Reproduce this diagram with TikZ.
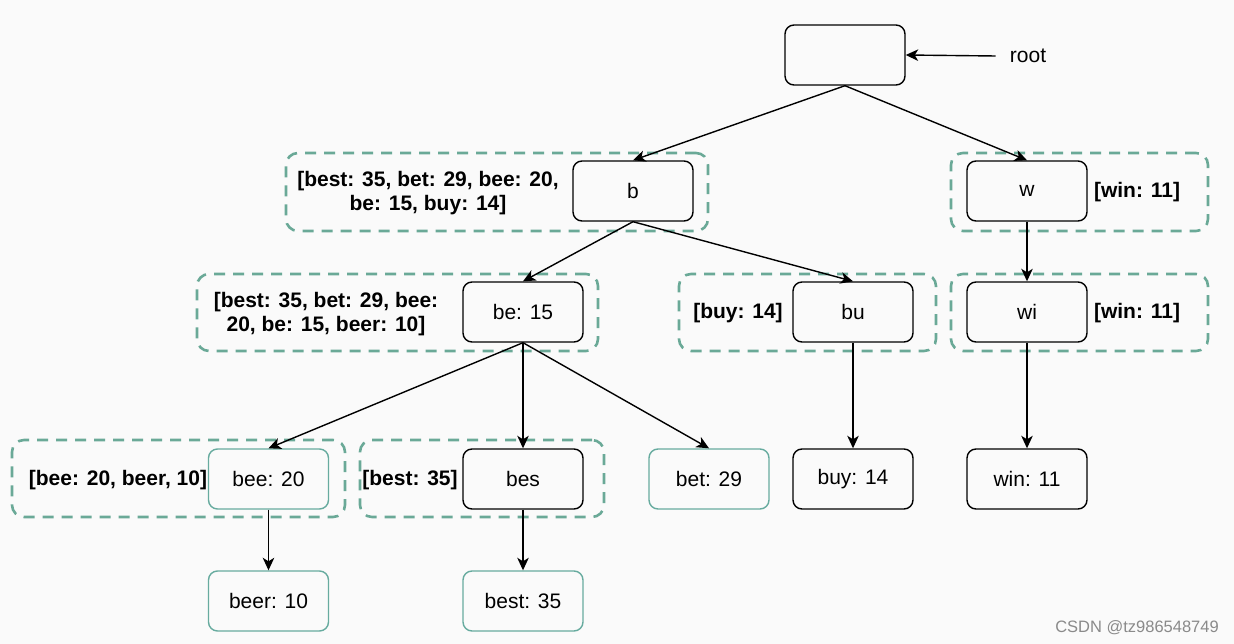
\documentclass[tikz,border=0pt]{standalone}
\usepackage{fontspec}
\setmainfont{Liberation Sans}
\usetikzlibrary{arrows.meta}
\definecolor{tealbox}{HTML}{67AB9F}
\definecolor{dashc}{HTML}{6AA997}
\definecolor{bgc}{HTML}{FAFAFA}
\definecolor{wm}{HTML}{8A8A8A}
\begin{document}
\begin{tikzpicture}[x=1pt,y=-1pt,
  box/.style={draw=black, line width=1.4pt, rounded corners=9pt, minimum width=120pt, minimum height=60pt, font=\fontsize{21}{24}\selectfont, inner sep=0pt},
  tbox/.style={box, draw=tealbox},
  dbox/.style={draw=dashc, line width=2.6pt, dash pattern=on 11pt off 8pt, rounded corners=12pt, inner sep=0pt},
  lbl/.style={font=\bfseries\fontsize{21}{24}\selectfont, align=center, inner sep=0pt},
  arr/.style={-{Stealth[length=12.5pt,width=11.5pt,inset=3.5pt]}, line width=1.4pt}]
\path[fill=bgc] (0,0) rectangle (1234,644);
\useasboundingbox (0,0) rectangle (1234,644);
% dashed groups
\node[dbox, minimum width=422pt, minimum height=78pt] (gb) at (497,192) {};
\node[dbox, minimum width=257pt, minimum height=78pt] (gw) at (1079.5,192) {};
\node[dbox, minimum width=401pt, minimum height=77pt] (gbe) at (397.5,312.5) {};
\node[dbox, minimum width=257pt, minimum height=77pt] (gbu) at (807.5,312.5) {};
\node[dbox, minimum width=257pt, minimum height=77pt] (gwi) at (1079.5,312.5) {};
\node[dbox, minimum width=333pt, minimum height=77pt] (gbee) at (178.5,478.5) {};
\node[dbox, minimum width=244pt, minimum height=77pt] (gbes) at (482,478.5) {};
% boxes
\node[box] (root) at (845,55) {};
\node[box] (b) at (633,191) {b};
\node[box] (w) at (1027,191) {w};
\node[box] (be) at (523,312) {be: 15};
\node[box] (bu) at (853,312) {bu};
\node[box] (wi) at (1027,312) {wi};
\node[tbox] (bee) at (268.5,479) {bee: 20};
\node[box] (bes) at (523,479) {bes};
\node[tbox] (bet) at (709,479) {bet: 29};
\node[box] (buy) at (853,479) {buy: 14};
\node[box] (win) at (1027,479) {win: 11};
\node[tbox] (beer) at (268.5,601) {beer: 10};
\node[tbox] (best) at (523,601) {best: 35};
% labels
\node[font=\fontsize{21}{24}\selectfont, inner sep=0pt, inner xsep=14pt] (rootlbl) at (1028,56) {root};
\node[lbl] (lb) at (428,193) {[best: 35, bet: 29, bee: 20,\\be: 15, buy: 14]};
\node[lbl] (lw) at (1137,192) {[win: 11]};
\node[lbl] (lbe) at (326,314) {[best: 35, bet: 29, bee:\\20, be: 15, beer: 10]};
\node[lbl] (lbu) at (738,313) {[buy: 14]};
\node[lbl] (lwi) at (1137,313) {[win: 11]};
\node[lbl] (lbee) at (118,480) {[bee: 20, beer, 10]};
\node[lbl] (lbes) at (410,480) {[best: 35]};
\node[font=\fontsize{16.5}{19}\selectfont, text=wm, inner sep=0pt] (csdn) at (1137,628) {CSDN @tz986548749};
% edges
\draw[arr] (rootlbl.west) -- (root.east);
\draw[arr] (root.south) -- (b.north);
\draw[arr] (root.south) -- (w.north);
\draw[arr] (b.south) -- (be.north);
\draw[arr] (b.south) -- (bu.north);
\draw[arr] (w.south) -- (wi.north);
\draw[arr] (be.south) -- (bee.north);
\draw[arr] (be.south) -- (bes.north);
\draw[arr] (be.south) -- (bet.north);
\draw[arr] (bu.south) -- (buy.north);
\draw[arr] (wi.south) -- (win.north);
\draw[arr] (bee.south) -- (beer.north);
\draw[arr] (bes.south) -- (best.north);
\end{tikzpicture}
\end{document}
